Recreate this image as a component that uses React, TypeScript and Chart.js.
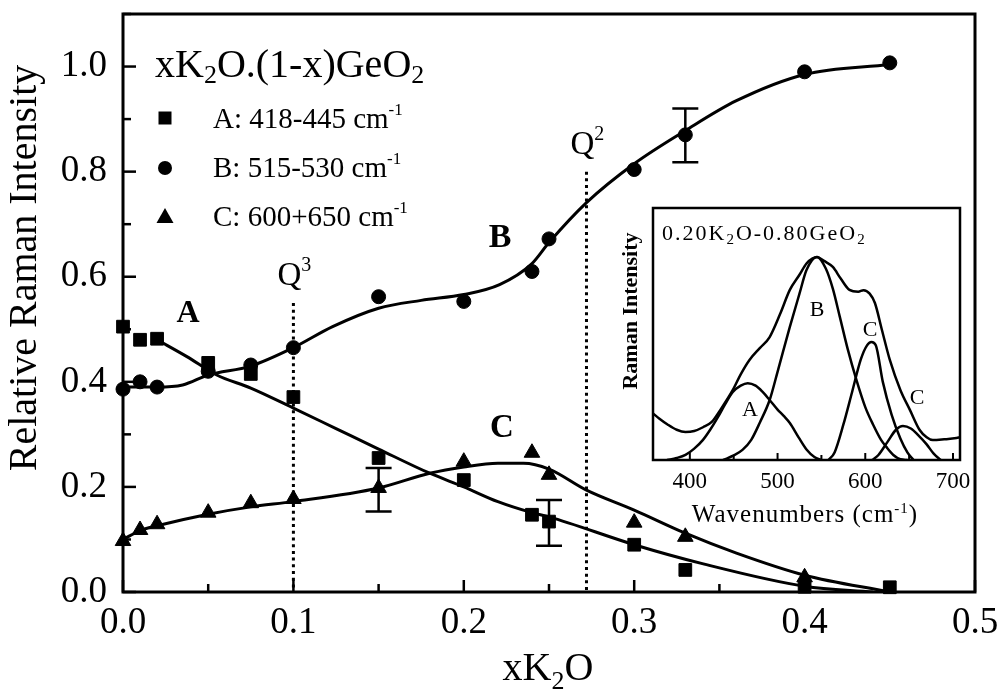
import React, { useEffect, useRef } from "react";
import { Chart, registerables } from "chart.js";

Chart.register(...registerables);

const SERIF = "'Liberation Serif', 'Times New Roman', Times, serif";

// ---------------- main chart data ----------------
const compX = [0, 0.01, 0.02, 0.05, 0.075, 0.1, 0.15, 0.2, 0.24, 0.25, 0.3, 0.33, 0.4, 0.45];
const peakA = [0.505, 0.48, 0.482, 0.436, 0.415, 0.371, 0.255, 0.213, 0.147, 0.134, 0.09, 0.042, 0.01, 0.009];
const peakB = [0.386, 0.4, 0.39, 0.42, 0.432, 0.465, 0.562, 0.553, 0.61, 0.672, 0.804, 0.87, 0.99, 1.007];
const compXC = [0, 0.01, 0.02, 0.05, 0.075, 0.1, 0.15, 0.2, 0.24, 0.25, 0.3, 0.33, 0.4];
const peakC = [0.097, 0.118, 0.129, 0.151, 0.169, 0.177, 0.198, 0.248, 0.265, 0.223, 0.132, 0.105, 0.028];

const fitAx = [0.02, 0.0375, 0.055, 0.075, 0.1, 0.125, 0.15, 0.18, 0.2, 0.22, 0.24, 0.25, 0.3, 0.34, 0.4, 0.44];
const fitAy = [0.48, 0.448, 0.413, 0.388, 0.35, 0.311, 0.272, 0.226, 0.2, 0.172, 0.151, 0.143, 0.09, 0.054, 0.011, 0.0];
const fitBx = [0, 0.02, 0.035, 0.05, 0.075, 0.1, 0.123, 0.15, 0.175, 0.2, 0.221, 0.24, 0.25, 0.272, 0.3, 0.33, 0.36, 0.4, 0.45];
const fitBy = [0.39, 0.39, 0.394, 0.413, 0.43, 0.465, 0.505, 0.54, 0.555, 0.566, 0.585, 0.625, 0.665, 0.741, 0.815, 0.878, 0.935, 0.985, 1.004];
const fitCx = [0, 0.01, 0.02, 0.05, 0.075, 0.1, 0.15, 0.18, 0.2, 0.22, 0.235, 0.25, 0.272, 0.3, 0.33, 0.36, 0.4, 0.45];
const fitCy = [0.1, 0.117, 0.126, 0.148, 0.162, 0.172, 0.198, 0.226, 0.238, 0.245, 0.245, 0.234, 0.194, 0.156, 0.112, 0.074, 0.032, 0.0];

const errX = [0.15, 0.25, 0.33];
const errLow = [0.153, 0.088, 0.818];
const errHigh = [0.236, 0.175, 0.92];

const qX = [0.1, 0.272];
const qTop = [0.55, 0.8];
const qSup = ["3", "2"];

const xTickStep = 0.05;
const yTickStep = 0.1;

// ---------------- inset data ----------------
const envWn = [358, 365, 375, 385, 395, 405, 415, 425, 435, 449, 458, 468, 480, 491, 503, 514, 525, 533, 540, 545, 553, 563, 572, 582, 592, 598, 605, 611, 619, 628, 640, 651, 662, 670, 677, 690, 704, 708];
const envI = [0.185, 0.165, 0.14, 0.12, 0.111, 0.115, 0.13, 0.151, 0.2, 0.278, 0.34, 0.397, 0.445, 0.488, 0.58, 0.675, 0.735, 0.78, 0.8, 0.806, 0.79, 0.766, 0.72, 0.675, 0.668, 0.674, 0.66, 0.623, 0.516, 0.397, 0.278, 0.198, 0.119, 0.09, 0.079, 0.082, 0.087, 0.09];

const bandAWn = [374, 385, 395, 405, 415, 423, 432, 440, 449, 458, 466, 475, 483, 491, 500, 507, 514, 524, 533, 542, 550];
const bandAI = [0.0, 0.008, 0.02, 0.045, 0.08, 0.119, 0.17, 0.22, 0.27, 0.295, 0.305, 0.295, 0.27, 0.238, 0.2, 0.175, 0.147, 0.09, 0.042, 0.012, 0.0];

const bandBWn = [438, 450, 460, 470, 480, 491, 500, 514, 525, 533, 545, 555, 563, 571, 580, 590, 600, 609, 618, 624, 632, 640, 648];
const bandBI = [0.0, 0.018, 0.04, 0.08, 0.15, 0.238, 0.35, 0.528, 0.66, 0.754, 0.806, 0.76, 0.68, 0.568, 0.44, 0.317, 0.21, 0.14, 0.08, 0.052, 0.02, 0.003, 0.0];

const bandC1Wn = [558, 565, 575, 585, 595, 602, 607, 612, 620, 630, 640, 648, 655];
const bandC1I = [0.0, 0.03, 0.14, 0.27, 0.4, 0.455, 0.468, 0.455, 0.31, 0.18, 0.085, 0.03, 0.0];

const bandC2Wn = [608, 615, 625, 635, 643, 652, 660, 670, 678, 686];
const bandC2I = [0.0, 0.02, 0.07, 0.12, 0.135, 0.125, 0.1, 0.062, 0.025, 0.0];

const insetTickStep = 50;

// ---------------- helpers ----------------
type Part = { t: string; size: number; dy?: number; bold?: boolean };

function fontOf(p: Part) {
  return `${p.bold ? "bold " : ""}${p.size}px ${SERIF}`;
}

function drawRich(ctx: CanvasRenderingContext2D, x: number, y: number, parts: Part[], align: "left" | "center" = "left") {
  let w = 0;
  for (const p of parts) {
    ctx.font = fontOf(p);
    w += ctx.measureText(p.t).width;
  }
  let cx = align === "center" ? x - w / 2 : x;
  ctx.textAlign = "left";
  ctx.textBaseline = "alphabetic";
  for (const p of parts) {
    ctx.font = fontOf(p);
    ctx.fillText(p.t, cx, y + (p.dy || 0));
    cx += ctx.measureText(p.t).width;
  }
}

function drawMarker(ctx: CanvasRenderingContext2D, kind: string, cx: number, cy: number) {
  ctx.beginPath();
  if (kind === "rect") {
    ctx.rect(cx - 6.5, cy - 6.5, 13, 13);
  } else if (kind === "circle") {
    ctx.arc(cx, cy, 7, 0, Math.PI * 2);
  } else {
    ctx.moveTo(cx, cy - 9);
    ctx.lineTo(cx + 8.5, cy + 6);
    ctx.lineTo(cx - 8.5, cy + 6);
    ctx.closePath();
  }
  ctx.fill();
}

const toXY = (xs: number[], ys: number[]) => xs.map((x, i) => ({ x, y: ys[i] }));

const mainDecor = {
  id: "mainDecor",
  beforeDatasetsDraw(chart: any) {
    const { ctx, scales } = chart;
    const x = scales.x;
    const y = scales.y;
    ctx.save();
    ctx.strokeStyle = "#000";
    ctx.lineWidth = 3;
    ctx.setLineDash([3, 3.7]);
    qX.forEach((v, i) => {
      const px = x.getPixelForValue(v);
      ctx.beginPath();
      ctx.moveTo(px, y.getPixelForValue(qTop[i]));
      ctx.lineTo(px, y.getPixelForValue(0));
      ctx.stroke();
    });
    ctx.restore();
  },
  afterDatasetsDraw(chart: any) {
    const { ctx, chartArea: ca, scales } = chart;
    const x = scales.x;
    const y = scales.y;
    ctx.save();
    ctx.strokeStyle = "#000";
    ctx.fillStyle = "#000";
    ctx.lineWidth = 3;
    ctx.setLineDash([]);
    ctx.strokeRect(ca.left, ca.top, ca.right - ca.left, ca.bottom - ca.top);

    // inward ticks
    ctx.lineWidth = 2.5;
    for (let i = 0; i * xTickStep <= x.max + 1e-9; i++) {
      const px = x.getPixelForValue(i * xTickStep);
      const len = i % 2 === 0 ? 12 : 8;
      ctx.beginPath();
      ctx.moveTo(px, ca.bottom);
      ctx.lineTo(px, ca.bottom - len);
      ctx.stroke();
    }
    for (let i = 0; i * yTickStep <= y.max + 1e-9; i++) {
      const py = y.getPixelForValue(i * yTickStep);
      const len = i % 2 === 0 ? 13 : 8;
      ctx.beginPath();
      ctx.moveTo(ca.left, py);
      ctx.lineTo(ca.left + len, py);
      ctx.stroke();
    }

    // error bars
    ctx.lineWidth = 2.5;
    errX.forEach((v, i) => {
      const px = x.getPixelForValue(v);
      const lo = y.getPixelForValue(errLow[i]);
      const hi = y.getPixelForValue(errHigh[i]);
      ctx.beginPath();
      ctx.moveTo(px, lo);
      ctx.lineTo(px, hi);
      ctx.moveTo(px - 13, lo);
      ctx.lineTo(px + 13, lo);
      ctx.moveTo(px - 13, hi);
      ctx.lineTo(px + 13, hi);
      ctx.stroke();
    });

    // Q labels
    qX.forEach((v, i) => {
      const px = x.getPixelForValue(v);
      const py = y.getPixelForValue(qTop[i]);
      drawRich(ctx, px - 16, py - 18, [
        { t: "Q", size: 33 },
        { t: qSup[i], size: 20, dy: -14 },
      ]);
    });

    // title + legend
    drawRich(ctx, 155, 77, [
      { t: "xK", size: 40 },
      { t: "2", size: 26, dy: 6 },
      { t: "O.(1-x)GeO", size: 40 },
      { t: "2", size: 26, dy: 6 },
    ]);
    const legend = [
      { m: "rect", t: "A: 418-445 cm", cy: 118, by: 128 },
      { m: "circle", t: "B: 515-530 cm", cy: 168, by: 177 },
      { m: "triangle", t: "C: 600+650 cm", cy: 217, by: 226 },
    ];
    legend.forEach((l) => {
      drawMarker(ctx, l.m, 165, l.cy);
      drawRich(ctx, 213, l.by, [
        { t: l.t, size: 29 },
        { t: "-1", size: 17, dy: -13 },
      ]);
    });

    // curve labels
    drawRich(ctx, 188, 322, [{ t: "A", size: 32, bold: true }], "center");
    drawRich(ctx, 500, 247, [{ t: "B", size: 34, bold: true }], "center");
    drawRich(ctx, 502, 437, [{ t: "C", size: 33, bold: true }], "center");

    // axis titles
    drawRich(ctx, 548, 680, [
      { t: "xK", size: 40 },
      { t: "2", size: 26, dy: 9 },
      { t: "O", size: 40 },
    ], "center");
    ctx.save();
    ctx.translate(25, 268);
    ctx.rotate(-Math.PI / 2);
    ctx.textAlign = "center";
    ctx.textBaseline = "middle";
    ctx.font = `40px ${SERIF}`;
    ctx.fillText("Relative Raman Intensity", 0, 0);
    ctx.restore();

    ctx.restore();
  },
};

const insetDecor = {
  id: "insetDecor",
  afterDatasetsDraw(chart: any) {
    const { ctx, chartArea: ca, scales } = chart;
    const x = scales.x;
    ctx.save();
    ctx.strokeStyle = "#000";
    ctx.fillStyle = "#000";
    ctx.lineWidth = 2.5;
    ctx.strokeRect(ca.left, ca.top, ca.right - ca.left, ca.bottom - ca.top);
    ctx.lineWidth = 2;
    for (let v = 400; v <= 700; v += insetTickStep) {
      const px = x.getPixelForValue(v);
      const len = v % 100 === 0 ? 7 : 5;
      ctx.beginPath();
      ctx.moveTo(px, ca.bottom);
      ctx.lineTo(px, ca.bottom - len);
      ctx.stroke();
    }
    // band labels
    ctx.textAlign = "center";
    ctx.textBaseline = "middle";
    ctx.font = `22px ${SERIF}`;
    ctx.fillText("A", 150, 215);
    ctx.fillText("B", 217, 115);
    ctx.fillText("C", 270, 135);
    ctx.fillText("C", 317, 203);

    ctx.letterSpacing = "2px";
    drawRich(ctx, 62, 45, [
      { t: "0.20K", size: 22 },
      { t: "2", size: 15, dy: 4 },
      { t: "O-0.80GeO", size: 22 },
      { t: "2", size: 15, dy: 4 },
    ]);
    ctx.letterSpacing = "1px";
    drawRich(ctx, 205, 327, [
      { t: "Wavenumbers (cm", size: 25 },
      { t: "-1", size: 15, dy: -9 },
      { t: ")", size: 25 },
    ], "center");
    ctx.letterSpacing = "0px";

    ctx.save();
    ctx.translate(31, 116);
    ctx.rotate(-Math.PI / 2);
    ctx.textAlign = "center";
    ctx.textBaseline = "middle";
    ctx.font = `bold 22px ${SERIF}`;
    ctx.fillText("Raman Intensity", 0, 0);
    ctx.restore();
    ctx.restore();
  },
};

const lineDs = (data: any[], width = 3) => ({
  data,
  showLine: true,
  pointRadius: 0,
  borderColor: "#000",
  backgroundColor: "#000",
  borderWidth: width,
  cubicInterpolationMode: "monotone" as const,
  fill: false,
});

const pointDs = (data: any[], style: string, radius: number) => ({
  data,
  showLine: false,
  pointStyle: style,
  pointRadius: radius,
  pointBackgroundColor: "#000",
  pointBorderColor: "#000",
  pointBorderWidth: 1,
  clip: false as const,
});

export default function App() {
  const mainRef = useRef<HTMLCanvasElement>(null);
  const insetRef = useRef<HTMLCanvasElement>(null);

  useEffect(() => {
    const tickFont = { family: SERIF, size: 37 };
    const main = new Chart(mainRef.current as HTMLCanvasElement, {
      type: "scatter",
      data: {
        datasets: [
          lineDs(toXY(fitAx, fitAy)),
          lineDs(toXY(fitBx, fitBy)),
          lineDs(toXY(fitCx, fitCy)),
          pointDs(toXY(compX, peakA), "rect", 9),
          pointDs(toXY(compX, peakB), "circle", 7),
          pointDs(toXY(compXC, peakC), "triangle", 9),
        ] as any,
      },
      options: {
        responsive: false,
        animation: false,
        devicePixelRatio: 1,
        layout: { padding: { left: 0, right: 24, top: 14, bottom: 0 } },
        plugins: { legend: { display: false }, tooltip: { enabled: false } },
        scales: {
          x: {
            type: "linear",
            min: 0,
            max: 0.5,
            grid: { display: false, drawTicks: false },
            border: { display: false },
            ticks: {
              stepSize: 0.1,
              includeBounds: false,
              padding: 9,
              color: "#000",
              font: tickFont,
              maxRotation: 0,
              autoSkip: false,
              callback: (v: any) => Number(v).toFixed(1),
            },
            afterFit: (s: any) => {
              s.height = 100;
              s.paddingLeft = 0;
              s.paddingRight = 0;
            },
          },
          y: {
            type: "linear",
            min: 0,
            max: 1.1,
            grid: { display: false, drawTicks: false },
            border: { display: false },
            ticks: {
              stepSize: 0.2,
              includeBounds: false,
              padding: 16,
              color: "#000",
              font: tickFont,
              autoSkip: false,
              callback: (v: any) => Number(v).toFixed(1),
            },
            afterFit: (s: any) => {
              s.width = 123;
              s.paddingTop = 0;
              s.paddingBottom = 0;
            },
          },
        },
      } as any,
      plugins: [mainDecor],
    });

    const inset = new Chart(insetRef.current as HTMLCanvasElement, {
      type: "scatter",
      data: {
        datasets: [
          lineDs(toXY(envWn, envI), 2.5),
          lineDs(toXY(bandAWn, bandAI), 2.5),
          lineDs(toXY(bandBWn, bandBI), 2.5),
          lineDs(toXY(bandC1Wn, bandC1I), 2.5),
          lineDs(toXY(bandC2Wn, bandC2I), 2.5),
        ] as any,
      },
      options: {
        responsive: false,
        animation: false,
        devicePixelRatio: 1,
        layout: { padding: { left: 0, right: 20, top: 13, bottom: 0 } },
        plugins: { legend: { display: false }, tooltip: { enabled: false } },
        scales: {
          x: {
            type: "linear",
            min: 358,
            max: 708,
            grid: { display: false, drawTicks: false },
            border: { display: false },
            ticks: {
              stepSize: 100,
              includeBounds: false,
              padding: 8,
              color: "#000",
              font: { family: SERIF, size: 23 },
              maxRotation: 0,
              autoSkip: false,
              callback: (v: any) => String(Math.round(Number(v))),
            },
            afterFit: (s: any) => {
              s.height = 80;
              s.paddingLeft = 0;
              s.paddingRight = 0;
            },
          },
          y: {
            type: "linear",
            min: 0,
            max: 1,
            grid: { display: false, drawTicks: false },
            border: { display: false },
            ticks: { display: false },
            afterFit: (s: any) => {
              s.width = 53;
              s.paddingTop = 0;
              s.paddingBottom = 0;
            },
          },
        },
      } as any,
      plugins: [insetDecor],
    });

    return () => {
      main.destroy();
      inset.destroy();
    };
  }, []);

  return (
    <div style={{ position: "absolute", left: 0, top: 0, width: 999, height: 692, background: "#fff" }}>
      <canvas ref={mainRef} width={999} height={692} style={{ position: "absolute", left: 0, top: 0 }} />
      <canvas ref={insetRef} width={380} height={345} style={{ position: "absolute", left: 600, top: 195 }} />
    </div>
  );
}
